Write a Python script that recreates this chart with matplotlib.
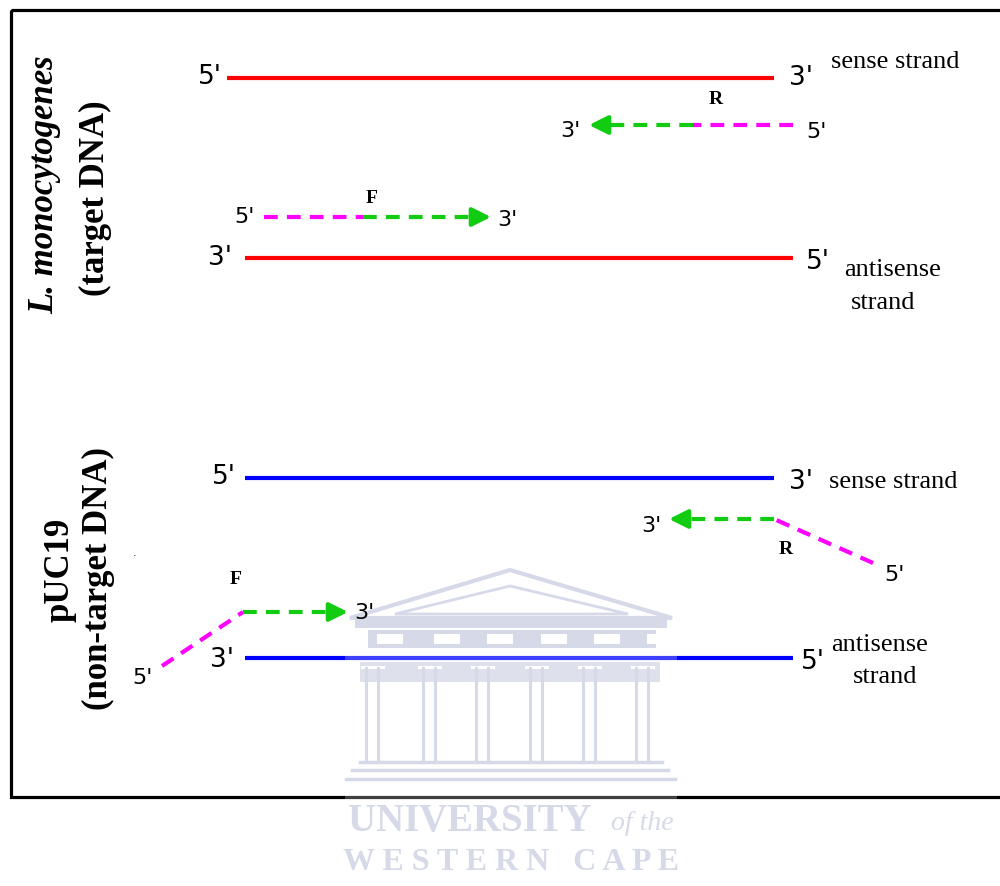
import matplotlib
matplotlib.use('Agg')
import matplotlib.pyplot as plt
from matplotlib.patches import Rectangle, Polygon

# strands (x start, x end, y) in pixel units of the 1000x886 canvas
strand_x0 = [227, 245, 245, 245]
strand_x1 = [774, 793, 774, 793]
strand_y = [78, 258, 478, 658]
strand_col = ['#ff0000', '#ff0000', '#0000ff', '#0000ff']

# primers: magenta tail points, green body points, arrow tip
tail_x = [[793, 693], [264, 363], [873, 774], [162, 243]]
tail_y = [[125, 125], [217, 217], [563, 519], [666, 612]]
body_x = [[693, 604], [363, 476], [774, 684], [243, 333]]
body_y = [[125, 125], [217, 217], [519, 519], [612, 612]]
tip_x = [589, 491, 669, 348]
tip_y = [125, 217, 519, 612]

# end labels 5'/3'
end_lab = ["5'", "3'", "3'", "5'", "5'", "3'", "3'", "5'",
           "5'", "3'", "3'", "5'", "5'", "3'", "3'", "5'"]
end_x = [210, 801, 570, 816, 245, 507, 220, 818,
         224, 801, 651, 894, 142, 364, 222, 813]
end_y = [77, 78, 131, 132, 217, 220, 258, 262,
         477, 482, 526, 575, 678, 613, 660, 662]
end_size = [19, 19, 16, 16, 16, 16, 19, 19,
            19, 19, 16, 16, 16, 16, 19, 19]

strand_names = ['sense strand', 'antisense', 'strand', 'sense strand', 'antisense', 'strand']
name_x = [895, 893, 883, 893, 880, 885]
name_y = [62, 270, 303, 482, 645, 677]

primer_names = ['R', 'F', 'R', 'F']
pname_x = [716, 372, 786, 236]
pname_y = [99, 198, 549, 580]

col_x = [373, 430, 483, 537, 590, 643]

fig = plt.figure(figsize=(10, 8.86), dpi=100)
ax = fig.add_axes([0, 0, 1, 1])
ax.set_xlim(0, 1000)
ax.set_ylim(886, 0)
ax.axis('off')

serif = 'Liberation Serif'
sans = 'DejaVu Sans'

# frame
ax.add_patch(Rectangle((11, 10), 1000, 787, fill=False, ec='black', lw=2.3, zorder=1))

for x0, x1, y, c in zip(strand_x0, strand_x1, strand_y, strand_col):
    ax.plot([x0, x1], [y, y], color=c, lw=3, solid_capstyle='butt', zorder=2)

for tx, ty, bx, by, px, py in zip(tail_x, tail_y, body_x, body_y, tip_x, tip_y):
    ax.plot(tx, ty, color='#ff00ff', lw=3, dashes=(3.3, 2.2), zorder=2)
    ax.plot(bx, by, color='#11cc11', lw=3, dashes=(3.3, 2.2), zorder=2)
    ax.annotate('', xy=(px, py), xytext=(bx[1], by[1]),
                arrowprops=dict(arrowstyle='-|>,head_length=0.7,head_width=0.35',
                                color='#11cc11', lw=3, shrinkA=0, shrinkB=0,
                                mutation_scale=16), zorder=3)

for s, x, y, fs in zip(end_lab, end_x, end_y, end_size):
    ax.text(x, y, s, fontsize=fs, family=sans, ha='center', va='center',
            color='black', zorder=8)

for s, x, y in zip(strand_names, name_x, name_y):
    ax.text(x, y, s, fontsize=19, family=serif, ha='center', va='center', zorder=8)

for s, x, y in zip(primer_names, pname_x, pname_y):
    ax.text(x, y, s, fontsize=14, family=serif, fontweight='bold', ha='center', va='center', zorder=8)

# rotated side labels
ax.text(45, 185, 'L. monocytogenes', rotation=90, fontsize=25, family=serif,
        style='italic', fontweight='bold', ha='center', va='center')
ax.text(95, 198, '(target DNA)', rotation=90, fontsize=25, family=serif,
        fontweight='bold', ha='center', va='center')
ax.text(60, 570, 'pUC19', rotation=90, fontsize=25, family=serif,
        fontweight='bold', ha='center', va='center')
ax.text(98, 578, '(non-target DNA)', rotation=90, fontsize=25, family=serif,
        fontweight='bold', ha='center', va='center')
ax.text(135, 553, '.', fontsize=8, ha='center', va='center')

# faded watermark
ax.add_patch(Rectangle((345, 568), 332, 318, fc='white', ec='none', alpha=0.25, zorder=5))
wm = '#d6d9e8'
ax.add_patch(Polygon([[350, 618], [510, 570], [672, 618]], closed=True, fill=False,
                     ec=wm, lw=3, zorder=6))
ax.add_patch(Polygon([[395, 614], [510, 586], [628, 614]], closed=True, fill=False,
                     ec=wm, lw=2, zorder=6))
ax.add_patch(Rectangle((355, 620), 312, 8, fc=wm, ec='none', zorder=6))
ax.add_patch(Rectangle((368, 630), 288, 18, fc=wm, ec='none', zorder=6))
for cx in col_x:
    ax.add_patch(Rectangle((cx - 18 + 22, 634), 26, 10, fc='white', ec='none', zorder=6))
ax.add_patch(Rectangle((360, 662), 300, 20, fc=wm, ec='none', alpha=0.8, zorder=6))
for cx in col_x:
    ax.add_patch(Rectangle((cx - 12, 666), 24, 3, fc='white', ec='none', zorder=6))
    ax.plot([cx - 7, cx - 7], [668, 762], color=wm, lw=2.2, zorder=6)
    ax.plot([cx + 5, cx + 5], [668, 762], color=wm, lw=2.2, zorder=6)
for y, x0, x1 in zip([762, 770, 779], [360, 352, 346], [662, 668, 675]):
    ax.plot([x0, x1], [y, y], color=wm, lw=2.5, zorder=6)

ax.text(348, 822, 'UNIVERSITY', fontsize=28, family=serif, fontweight='bold',
        color=wm, ha='left', va='center', zorder=6)
ax.text(674, 824, 'of the', fontsize=20, family=serif, style='italic',
        color=wm, ha='right', va='center', zorder=6)
ax.text(511, 862, 'W E S T E R N   C A P E', fontsize=23, family=serif, fontweight='bold',
        color=wm, ha='center', va='center', zorder=6)

fig.savefig('out.png', dpi=100)
